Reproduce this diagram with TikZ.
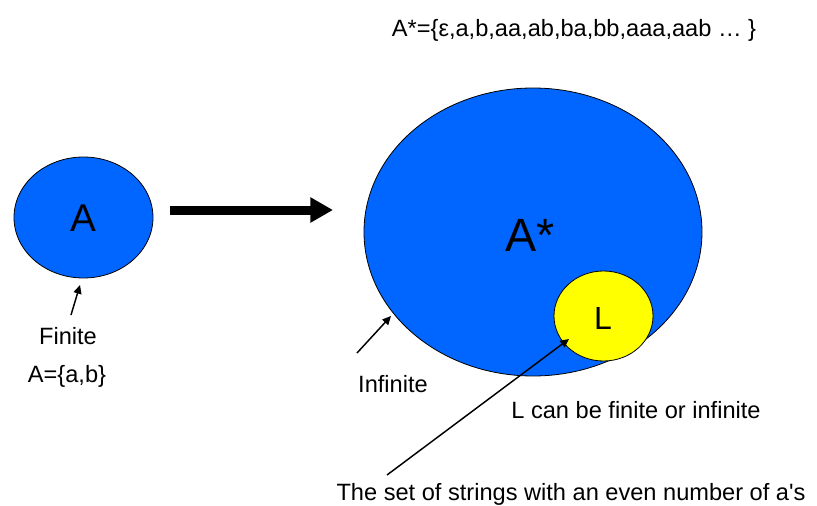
\documentclass[tikz,border=0pt]{standalone}
\usepackage{fontspec}
\setmainfont{Liberation Sans}
\newfontfamily\rawsans{Liberation Sans}
\usetikzlibrary{shapes.geometric,arrows.meta}
\definecolor{setblue}{RGB}{0,102,255}
\definecolor{setyellow}{RGB}{255,255,0}
\begin{document}
\begin{tikzpicture}[x=0.75pt,y=-0.75pt,
  setshape/.style={ellipse,draw=black,line width=0.6pt,inner sep=0pt},
  lbl/.style={inner sep=0pt,font=\fontsize{17.7}{21}\selectfont},
  thinarrow/.style={line width=1.1pt,-{Triangle[length=6.5pt,width=6pt]}},
  bigarrow/.style={line width=6.75pt,-{Triangle[length=17pt,width=18pt]}}]
\useasboundingbox (0,0) rectangle (817,506);
% sets
\node[setshape,fill=setblue,minimum width=104.25pt,minimum height=90.75pt] (A) at (83.5,217.5) {};
\node[font=\fontsize{29}{34}\selectfont] (Alab) at (83.5,218) {A};
\node[setshape,fill=setblue,minimum width=253.5pt,minimum height=216pt] (Astar) at (533,232) {};
\node[font=\fontsize{35}{40}\selectfont] (Aslab) at (530,235) {A*};
\node[setshape,fill=setyellow,minimum width=74.25pt,minimum height=67.5pt] (L) at (603.5,316) {};
\node[font=\fontsize{24}{28}\selectfont] (Llab) at (603,318) {L};
% labels
\node[lbl] (top) at (574,30) {A*=\{ε,a,b,aa,ab,ba,bb,aaa,aab … \}};
\node[lbl] (fin) at (68,336) {Finite};
\node[lbl] (aset) at (67,376) {A=\{a,b\}};
\node[lbl] (inf) at (393,384) {Infinite};
\node[lbl] (lcan) at (636,410) {L can be finite or infinite};
\node[lbl] (even) at (571,494) {The set of strings with an even number of a{\rawsans '}s};
% connectors
\coordinate (t1) at (170,210);
\coordinate (h1) at (333,210);
\draw[bigarrow] (t1) -- (h1);
\coordinate (t2) at (71,315);
\coordinate (h2) at (80,285);
\draw[thinarrow] (t2) -- (h2);
\coordinate (t3) at (357,353);
\coordinate (h3) at (391,316);
\draw[thinarrow] (t3) -- (h3);
\coordinate (t4) at (387,475);
\coordinate (h4) at (569,339);
\draw[thinarrow] (t4) -- (h4);
\end{tikzpicture}
\end{document}
